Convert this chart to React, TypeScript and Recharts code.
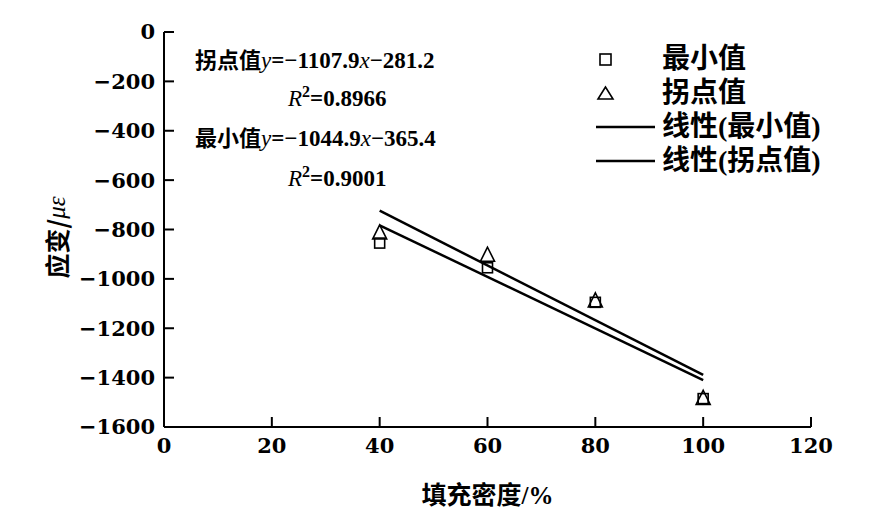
import { ScatterChart, Scatter, XAxis, YAxis, Legend, Customized } from "recharts";

// filling density (%) and measured strain (με)
const fillDensity = [40, 60, 80, 100];
const minStrain = [-855, -955, -1095, -1485];
const kneeStrain = [-810, -900, -1085, -1480];

// end points of the two linear fits, as drawn
const fitDensity = [40, 100];
const minFitStrain = [-783, -1410];
const kneeFitStrain = [-724, -1389];

const xTicks = [0, 20, 40, 60, 80, 100, 120];
const yTicks = [0, -200, -400, -600, -800, -1000, -1200, -1400, -1600];

const minPoints = fillDensity.map((x, i) => ({ x, y: minStrain[i] }));
const kneePoints = fillDensity.map((x, i) => ({ x, y: kneeStrain[i] }));
const minFit = fitDensity.map((x, i) => ({ x, y: minFitStrain[i] }));
const kneeFit = fitDensity.map((x, i) => ({ x, y: kneeFitStrain[i] }));

const TICK_FONT = '"DejaVu Serif", "Liberation Serif", serif';
const TEXT_FONT = '"Liberation Serif", "Noto Sans CJK SC", serif';
const CJK_FONT = '"Noto Sans CJK SC", sans-serif';

const fmt = (v: number) => String(v).replace("-", "\u2212");

const Square = (props: any) => {
  const { cx, cy } = props;
  if (cx == null || cy == null) return <g />;
  return <rect x={cx - 5} y={cy - 5} width={10} height={10} fill="none" stroke="#000" strokeWidth={1.6} />;
};

const Triangle = (props: any) => {
  const { cx, cy } = props;
  if (cx == null || cy == null) return <g />;
  return (
    <polygon
      points={`${cx},${cy - 7} ${cx - 7},${cy + 7} ${cx + 7},${cy + 7}`}
      fill="none"
      stroke="#000"
      strokeWidth={1.6}
    />
  );
};

const NoDot = () => <g />;

const LegendBox = () => {
  const rows = [
    { icon: "square", label: "最小值" },
    { icon: "triangle", label: "拐点值" },
    { icon: "line", label: "线性(最小值)" },
    { icon: "line", label: "线性(拐点值)" },
  ];
  return (
    <div style={{ fontFamily: TEXT_FONT, fontSize: 28, fontWeight: "bold", color: "#000" }}>
      {rows.map((r) => (
        <div key={r.label} style={{ display: "flex", alignItems: "center", height: 34 }}>
          <svg width={66} height={34}>
            {r.icon === "square" && <rect x={4} y={12} width={11} height={11} fill="none" stroke="#000" strokeWidth={1.6} />}
            {r.icon === "triangle" && (
              <polygon points="9.5,11 2,23 17,23" fill="none" stroke="#000" strokeWidth={1.6} />
            )}
            {r.icon === "line" && <line x1={0} x2={59} y1={17} y2={17} stroke="#000" strokeWidth={2.5} />}
          </svg>
          <span style={{ lineHeight: "34px" }}>{r.label}</span>
        </div>
      ))}
    </div>
  );
};

const Equations = () => (
  <g fontFamily={TEXT_FONT} fontSize={23} fontWeight="bold" fill="#000">
    <text x={195} y={68}>
      <tspan fontFamily={CJK_FONT} fontSize={22}>拐点值</tspan>
      <tspan fontStyle="italic" fontWeight="normal">y</tspan>
      <tspan>=−1107.9</tspan>
      <tspan fontStyle="italic" fontWeight="normal">x</tspan>
      <tspan>−281.2</tspan>
    </text>
    <text x={288} y={106}>
      <tspan fontStyle="italic" fontWeight="normal">R</tspan>
      <tspan fontSize={16} dy={-9}>2</tspan>
      <tspan dy={9}>=0.8966</tspan>
    </text>
    <text x={195} y={146}>
      <tspan fontFamily={CJK_FONT} fontSize={22}>最小值</tspan>
      <tspan fontStyle="italic" fontWeight="normal">y</tspan>
      <tspan>=−1044.9</tspan>
      <tspan fontStyle="italic" fontWeight="normal">x</tspan>
      <tspan>−365.4</tspan>
    </text>
    <text x={288} y={186}>
      <tspan fontStyle="italic" fontWeight="normal">R</tspan>
      <tspan fontSize={16} dy={-9}>2</tspan>
      <tspan dy={9}>=0.9001</tspan>
    </text>
  </g>
);

const YTitle = (props: any) => {
  const { viewBox } = props;
  const cx = 56;
  const cy = viewBox.y + viewBox.height / 2 + 8;
  return (
    <text
      x={cx}
      y={cy}
      transform={`rotate(-90, ${cx}, ${cy})`}
      textAnchor="middle"
      dominantBaseline="central"
      fontFamily={TEXT_FONT}
      fontSize={25}
      fontWeight="bold"
      fill="#000"
    >
      <tspan fontFamily={CJK_FONT}>应变/</tspan>
      <tspan fontStyle="italic" fontWeight="normal">με</tspan>
    </text>
  );
};

const XTitle = (props: any) => {
  const { viewBox } = props;
  return (
    <text
      x={viewBox.x + viewBox.width / 2}
      y={504}
      textAnchor="middle"
      fontFamily={TEXT_FONT}
      fontSize={25}
      fontWeight="bold"
      fill="#000"
    >
      填充密度/%
    </text>
  );
};

export default function App() {
  return (
    <div style={{ position: "absolute", left: 0, top: 0, background: "#fff" }}>
      <ScatterChart width={891} height={526} margin={{ top: 32, right: 80, bottom: 39, left: 84 }}>
        <XAxis
          type="number"
          dataKey="x"
          domain={[0, 120]}
          ticks={xTicks}
          interval={0}
          height={60}
          stroke="#000"
          axisLine={{ stroke: "#000", strokeWidth: 2 }}
          tickLine={{ stroke: "#000", strokeWidth: 2 }}
          tickSize={-10}
          tickMargin={21}
          tick={{ fill: "#000", fontSize: 21, fontWeight: "bold", fontFamily: TICK_FONT }}
          label={<XTitle />}
        />
        <YAxis
          type="number"
          dataKey="y"
          domain={[-1600, 0]}
          ticks={yTicks}
          interval={0}
          width={80}
          stroke="#000"
          axisLine={{ stroke: "#000", strokeWidth: 2 }}
          tickLine={{ stroke: "#000", strokeWidth: 2 }}
          tickSize={-10}
          tickMargin={19}
          tickFormatter={fmt}
          tick={{ fill: "#000", fontSize: 21, fontWeight: "bold", fontFamily: TICK_FONT }}
          label={<YTitle />}
        />
        <Scatter name="线性(最小值)" data={minFit} line={{ stroke: "#000", strokeWidth: 2.5 }} shape={NoDot} isAnimationActive={false} />
        <Scatter name="线性(拐点值)" data={kneeFit} line={{ stroke: "#000", strokeWidth: 2.5 }} shape={NoDot} isAnimationActive={false} />
        <Scatter name="最小值" data={minPoints} shape={Square} isAnimationActive={false} />
        <Scatter name="拐点值" data={kneePoints} shape={Triangle} isAnimationActive={false} />
        <Customized component={Equations} />
        <Legend
          layout="vertical"
          align="center"
          verticalAlign="middle"
          content={<LegendBox />}
          wrapperStyle={{ left: 596, top: 42, width: 290, height: 140 }}
        />
      </ScatterChart>
    </div>
  );
}
